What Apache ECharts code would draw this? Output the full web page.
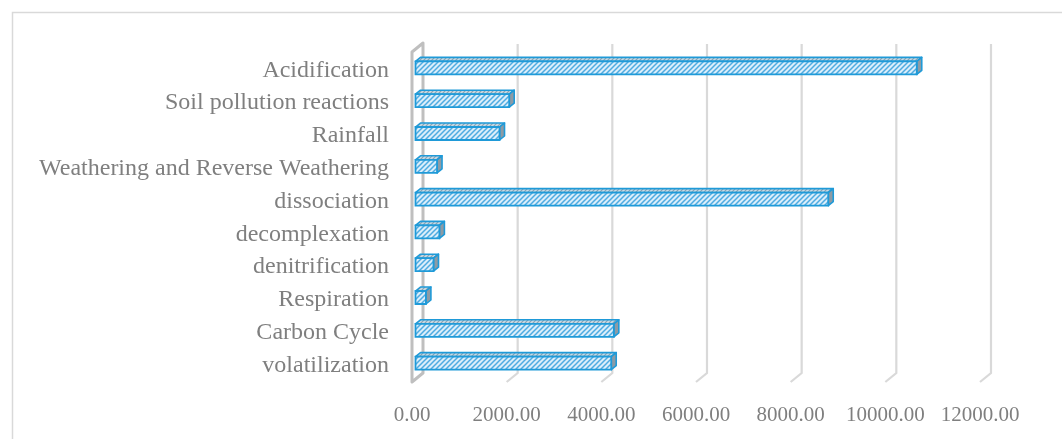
<!DOCTYPE html>
<html>
<head>
<meta charset="utf-8">
<script src="https://cdn.jsdelivr.net/npm/echarts@6/dist/echarts.min.js"></script>
<style>
html,body{margin:0;padding:0;background:#fff;}
#chart{width:1062px;height:439px;}
</style>
</head>
<body>
<div id="chart"></div>
<script>
const categories = ['Acidification','Soil pollution reactions','Rainfall','Weathering and Reverse Weathering','dissociation','decomplexation','denitrification','Respiration','Carbon Cycle','volatilization'];
const values = [10590, 1980, 1775, 455, 8720, 505, 380, 220, 4190, 4135];
const xTicks = [0, 2000, 4000, 6000, 8000, 10000, 12000];

function makePattern(bg, stripe, size, lw) {
  const c = document.createElement('canvas');
  c.width = size; c.height = size;
  const g = c.getContext('2d');
  g.fillStyle = bg; g.fillRect(0, 0, size, size);
  g.strokeStyle = stripe; g.lineWidth = lw;
  g.beginPath();
  g.moveTo(-1, size + 1); g.lineTo(size + 1, -1);
  g.moveTo(-1, 1); g.lineTo(1, -1);
  g.moveTo(size - 1, size + 1); g.lineTo(size + 1, size - 1);
  g.stroke();
  return { image: c, repeat: 'repeat' };
}
const frontPattern = makePattern('#dbeefa', '#4eabe1', 5, 1.5);
const topPattern = makePattern('#c9dbe6', '#8aa3b3', 4, 1.2);

const BACK_DX = 11, BACK_DY = -9;
const LABEL_FONT = "'Liberation Serif', 'Times New Roman', serif";
const TEXT_COLOR = '#7f7f7f';

const chart = echarts.init(document.getElementById('chart'), null, { renderer: 'canvas' });

chart.setOption({
  animation: false,
  backgroundColor: '#ffffff',
  graphic: [{
    type: 'polyline',
    shape: { points: [[12.5, 445], [12.5, 12.5], [1070, 12.5]] },
    style: { stroke: '#d9d9d9', lineWidth: 1.5, fill: null },
    silent: true
  }],
  grid: { left: 412, right: 82, top: 54, bottom: 57, containLabel: false },
  xAxis: {
    type: 'value', min: 0, max: 12000, interval: 2000,
    axisLine: { show: false }, axisTick: { show: false }, splitLine: { show: false },
    axisLabel: {
      margin: 23, color: TEXT_COLOR, fontFamily: LABEL_FONT, fontSize: 21,
      formatter: v => v.toFixed(2)
    }
  },
  yAxis: {
    type: 'category', data: categories, inverse: true,
    axisLine: { show: false }, axisTick: { show: false }, splitLine: { show: false },
    axisLabel: { margin: 23, color: TEXT_COLOR, fontFamily: LABEL_FONT, fontSize: 24, padding: [6, 0, 0, 0] }
  },
  series: [
    {
      type: 'custom', name: 'grid3d', silent: true, clip: false, z: 1,
      data: xTicks.map(v => [v, 0]),
      encode: { x: 0, y: 1 },
      renderItem: function (params, api) {
        const cs = params.coordSys;
        const x = api.coord([api.value(0), 0])[0];
        const top = cs.y, bot = cs.y + cs.height;
        if (api.value(0) === 0) {
          return {
            type: 'polygon',
            shape: { points: [[x, top - 2], [x + BACK_DX, top - 2 + BACK_DY], [x + BACK_DX, bot + BACK_DY], [x, bot]] },
            style: { fill: '#ffffff', stroke: '#bfbfbf', lineWidth: 3, lineJoin: 'round' }
          };
        }
        return {
          type: 'polyline',
          shape: { points: [[x + BACK_DX, top - 10], [x + BACK_DX, bot + BACK_DY], [x, bot]] },
          style: { stroke: '#d9d9d9', lineWidth: 2.2, fill: null }
        };
      }
    },
    {
      type: 'custom', name: 'bars', clip: false, z: 5,
      data: values.map((v, i) => [v, i]),
      encode: { x: 0, y: 1 },
      renderItem: function (params, api) {
        const idx = api.value(1);
        const p0 = api.coord([0, idx]);
        const p1 = api.coord([api.value(0), idx]);
        const c = p0[1];
        const xs = p0[0] + 3.5, xe = p1[0] + 3.5;
        const ft = c - 9, fb = c + 4;
        const dx = 5, dy = 4;
        const stroke = '#1f9ad8';
        return {
          type: 'group',
          children: [
            {
              type: 'polygon',
              shape: { points: [[xs, ft], [xs + dx, ft - dy], [xe + dx, ft - dy], [xe, ft]] },
              style: { fill: topPattern, stroke: stroke, lineWidth: 1.6, lineJoin: 'round' }
            },
            {
              type: 'polygon',
              shape: { points: [[xe, ft], [xe + dx, ft - dy], [xe + dx, fb - dy], [xe, fb]] },
              style: { fill: '#8d9ba5', stroke: stroke, lineWidth: 1.6, lineJoin: 'round' }
            },
            {
              type: 'rect',
              shape: { x: xs, y: ft, width: xe - xs, height: fb - ft },
              style: { fill: frontPattern, stroke: stroke, lineWidth: 1.8 }
            }
          ]
        };
      }
    }
  ]
});
</script>
</body>
</html>
